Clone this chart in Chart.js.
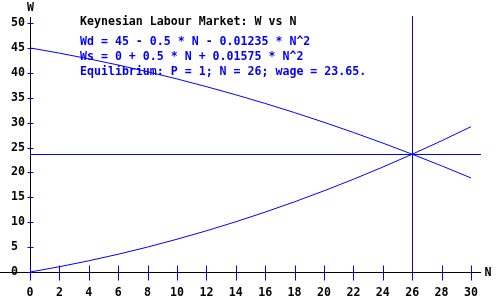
<!DOCTYPE html>
<html>
<head>
<meta charset="utf-8">
<script src="https://cdn.jsdelivr.net/npm/chart.js@4"></script>
<style>
  html, body { margin: 0; padding: 0; background: #fff; }
  #wrap { width: 500px; height: 300px; }
</style>
</head>
<body>
<div id="wrap"><canvas id="chart" width="500" height="300"></canvas></div>
<script>
/* ================= DATA ================= */
const nValues  = [0, 2, 4, 6, 8, 10, 12, 14, 16, 18, 20, 22, 24, 26, 28, 30];
const wdValues = [45, 43.95, 42.8, 41.56, 40.21, 38.77, 37.22, 35.58, 33.84, 32.0, 30.06, 28.02, 25.89, 23.65, 21.32, 18.89];
const wsValues = [0, 1.06, 2.25, 3.57, 5.01, 6.58, 8.27, 10.09, 12.03, 14.1, 16.3, 18.62, 21.07, 23.65, 26.35, 29.18];
const xTicks = [0, 2, 4, 6, 8, 10, 12, 14, 16, 18, 20, 22, 24, 26, 28, 30];
const yTicks = [0, 5, 10, 15, 20, 25, 30, 35, 40, 45, 50];
const eqN = 26;
const eqWage = 23.65;
const titleText = "Keynesian Labour Market: W vs N";
const infoLines = [
    "Wd = 45 - 0.5 * N - 0.01235 * N^2",
    "Ws = 0 + 0.5 * N + 0.01575 * N^2",
    "Equilibrium: P = 1; N = 26; wage = 23.65."
];

const BLUE = "#0000ff";
const FONT = "bold 11.6px 'DejaVu Sans Mono', 'Liberation Mono', monospace";

/* ================= AXES + TEXT PLUGIN ================= */
const axesPlugin = {
    id: "axes",
    afterDatasetsDraw(chart) {
        const ctx = chart.ctx;
        const xs = chart.scales.x;
        const ys = chart.scales.y;
        const area = chart.chartArea;
        const x0 = Math.round(xs.getPixelForValue(0)) + 0.5;
        const y0 = Math.round(ys.getPixelForValue(0)) + 0.5;

        ctx.save();
        ctx.lineWidth = 1;

        // equilibrium cross lines
        ctx.strokeStyle = BLUE;
        const ex = Math.round(xs.getPixelForValue(eqN)) + 0.5;
        const ey = Math.round(ys.getPixelForValue(eqWage)) + 0.5;
        ctx.beginPath();
        ctx.moveTo(ex, area.top - 7);
        ctx.lineTo(ex, y0);
        ctx.moveTo(x0, ey);
        ctx.lineTo(area.right + 10, ey);
        ctx.stroke();

        // black axis lines
        ctx.strokeStyle = "#000";
        ctx.beginPath();
        ctx.moveTo(0, y0);
        ctx.lineTo(area.right + 10, y0);
        ctx.moveTo(x0, area.top - 6);
        ctx.lineTo(x0, y0);
        ctx.stroke();

        // tick marks
        ctx.strokeStyle = BLUE;
        ctx.beginPath();
        xTicks.forEach(v => {
            const px = Math.round(xs.getPixelForValue(v)) + 0.5;
            ctx.moveTo(px, y0 - 7);
            ctx.lineTo(px, y0 + 8);
        });
        yTicks.forEach(v => {
            const py = Math.round(ys.getPixelForValue(v)) + 0.5;
            ctx.moveTo(x0 - 3, py);
            ctx.lineTo(x0 + 3, py);
        });
        ctx.stroke();

        // tick labels
        ctx.font = FONT;
        ctx.fillStyle = "#000";
        ctx.textBaseline = "middle";
        ctx.textAlign = "center";
        xTicks.forEach(v => {
            ctx.fillText(String(v), xs.getPixelForValue(v), y0 + 20);
        });
        ctx.textAlign = "left";
        yTicks.forEach(v => {
            ctx.fillText(String(v), 11, ys.getPixelForValue(v));
        });

        // axis names
        ctx.textAlign = "center";
        ctx.fillText("W", x0, 8);
        ctx.fillText("N", area.right + 17, y0);

        // title and equations
        ctx.textAlign = "left";
        ctx.fillText(titleText, 80, 22);
        ctx.fillStyle = BLUE;
        infoLines.forEach((line, i) => {
            ctx.fillText(line, 80, 42 + i * 15);
        });
        ctx.restore();
    }
};

/* ================= CHART ================= */
new Chart(document.getElementById("chart"), {
    type: "line",
    data: {
        datasets: [
            {
                label: "Wd",
                data: nValues.map((n, i) => ({ x: n, y: wdValues[i] })),
                borderColor: BLUE,
                borderWidth: 1,
                pointRadius: 0,
                cubicInterpolationMode: "monotone",
                clip: false
            },
            {
                label: "Ws",
                data: nValues.map((n, i) => ({ x: n, y: wsValues[i] })),
                borderColor: BLUE,
                borderWidth: 1,
                pointRadius: 0,
                cubicInterpolationMode: "monotone",
                clip: false
            }
        ]
    },
    options: {
        responsive: false,
        animation: false,
        devicePixelRatio: 1,
        layout: { padding: { left: 30, right: 29, top: 23, bottom: 28 } },
        plugins: {
            legend: { display: false },
            tooltip: { enabled: false }
        },
        scales: {
            x: { type: "linear", min: 0, max: 30, display: false },
            y: { type: "linear", min: 0, max: 50, display: false }
        }
    },
    plugins: [axesPlugin]
});
</script>
</body>
</html>
